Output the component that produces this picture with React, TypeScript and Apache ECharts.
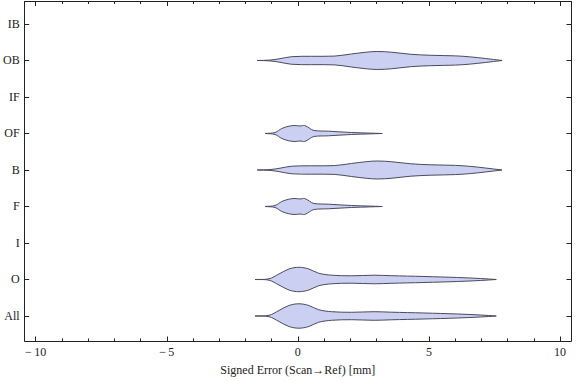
import React, { useEffect, useRef } from "react";
import * as echarts from "echarts";

// Categories from bottom to top
const categories = ["All", "O", "I", "F", "B", "OF", "IF", "OB", "IB"];

// Violin profiles: x positions (mm) and half-width densities
const allX = [-1.63, -1.1, -0.72, -0.34, 0.04, 0.42, 0.79, 1.29, 2.04, 2.91, 3.56, 4.81, 6.09, 6.96, 7.57];
const allD = [0, 0.7, 5.5, 10.5, 12.2, 10.5, 6.3, 4.3, 3.7, 4.3, 3.8, 3.0, 2.0, 1.0, 0];
const oX = [-1.63, -1.1, -0.72, -0.34, 0.04, 0.42, 0.79, 1.29, 2.04, 2.91, 3.56, 4.81, 6.09, 6.96, 7.57];
const oD = [0, 0.7, 5.5, 10.5, 12.2, 10.5, 6.3, 4.3, 3.7, 4.3, 3.8, 3.0, 2.0, 1.0, 0];
const fX = [-1.25, -0.87, -0.61, -0.34, -0.11, 0.08, 0.26, 0.45, 0.61, 1.17, 2.04, 2.72, 3.22];
const fD = [0, 1, 5, 7.3, 8, 7.5, 8, 5.2, 3, 2.3, 1, 0.4, 0];
const ofX = [-1.25, -0.87, -0.61, -0.34, -0.11, 0.08, 0.26, 0.45, 0.61, 1.17, 2.04, 2.72, 3.22];
const ofD = [0, 1, 5, 7.3, 8, 7.5, 8, 5.2, 3, 2.3, 1, 0.4, 0];
const bX = [-1.55, -1.06, -0.68, -0.23, 0.53, 1.4, 2.04, 2.61, 3.03, 3.56, 4.31, 5.07, 6.02, 6.58, 7.15, 7.79];
const bD = [0, 0.4, 1.8, 3.8, 4.2, 4.4, 6.5, 8.3, 9, 8.3, 6.2, 5.2, 4.6, 3.6, 2, 0];
const obX = [-1.55, -1.06, -0.68, -0.23, 0.53, 1.4, 2.04, 2.61, 3.03, 3.56, 4.31, 5.07, 6.02, 6.58, 7.15, 7.79];
const obD = [0, 0.4, 1.8, 3.8, 4.2, 4.4, 6.5, 8.3, 9, 8.3, 6.2, 5.2, 4.6, 3.6, 2, 0];

const violins = [
  { cat: "All", xs: allX, ds: allD },
  { cat: "O", xs: oX, ds: oD },
  { cat: "F", xs: fX, ds: fD },
  { cat: "B", xs: bX, ds: bD },
  { cat: "OF", xs: ofX, ds: ofD },
  { cat: "OB", xs: obX, ds: obD },
];

const majorTicks = [-10, -5, 0, 5, 10];
const minorTicks = [-10, -9, -8, -7, -6, -5, -4, -3, -2, -1, 0, 1, 2, 3, 4, 5, 6, 7, 8, 9, 10];
const catTicks = [1, 2, 3, 4, 5, 6, 7, 8, 9];

const FONT = "'Liberation Serif', 'DejaVu Serif', serif";
const DENSITY_SCALE = 1 / 36.5;
const X_MIN = -10.42;
const X_MAX = 10.42;
const Y_MIN = 0.315;
const Y_MAX = 9.616;

export default function App() {
  const ref = useRef<HTMLDivElement>(null);
  useEffect(() => {
    if (!ref.current) return;
    const chart = echarts.init(ref.current, undefined, { renderer: "svg" });
    const axisLine = { show: true, onZero: false, lineStyle: { color: "#222", width: 1 } };
    const noLine = { show: false, onZero: false };
    const fmtX = (v: number) => (v < 0 ? "\u2212\u2009" + Math.abs(v) : String(v));
    const xBase = { type: "value", min: X_MIN, max: X_MAX, splitLine: { show: false } };
    const yBase = { type: "value", min: Y_MIN, max: Y_MAX, splitLine: { show: false } };
    const tick = (vals: number[], len: number) => ({
      show: true,
      inside: true,
      length: len,
      customValues: vals,
      lineStyle: { color: "#222" },
    });
    chart.setOption({
      animation: false,
      grid: { left: 20.5, right: 5, top: 1.5, bottom: 40, containLabel: false },
      xAxis: [
        {
          ...xBase,
          position: "bottom",
          axisLine,
          axisTick: tick(majorTicks, 4.5),
          axisLabel: {
            show: true,
            customValues: majorTicks,
            formatter: fmtX,
            fontFamily: FONT,
            fontSize: 12,
            color: "#222",
            margin: 5,
          },
          name: "Signed Error (Scan\u2192Ref) [mm]",
          nameLocation: "middle",
          nameGap: 23,
          nameTextStyle: { fontFamily: FONT, fontSize: 12, color: "#222" },
        },
        { ...xBase, position: "bottom", axisLine: noLine, axisTick: tick(minorTicks, 2.5), axisLabel: { show: false } },
        { ...xBase, position: "top", axisLine, axisTick: tick(majorTicks, 4.5), axisLabel: { show: false } },
        { ...xBase, position: "top", axisLine: noLine, axisTick: tick(minorTicks, 2.5), axisLabel: { show: false } },
      ],
      yAxis: [
        {
          ...yBase,
          position: "left",
          axisLine,
          axisTick: tick(catTicks, 4.5),
          axisLabel: {
            show: true,
            customValues: catTicks,
            formatter: (v: number) => categories[Math.round(v) - 1] ?? "",
            fontFamily: FONT,
            fontSize: 12,
            color: "#222",
            margin: 5,
          },
        },
        { ...yBase, position: "right", axisLine, axisTick: tick(catTicks, 4.5), axisLabel: { show: false } },
      ],
      series: [
        {
          type: "custom",
          xAxisIndex: 0,
          yAxisIndex: 0,
          clip: false,
          data: violins.map((v) => [categories.indexOf(v.cat) + 1]),
          encode: { y: 0 },
          renderItem: (params: any, api: any) => {
            const v = violins[params.dataIndex];
            const cy = api.value(0);
            const unit = api.size([0, 1])[1];
            const top: number[][] = [];
            const bot: number[][] = [];
            v.xs.forEach((x, k) => {
              const p = api.coord([x, cy]);
              const h = v.ds[k] * DENSITY_SCALE * unit;
              top.push([p[0], p[1] - h]);
              bot.push([p[0], p[1] + h]);
            });
            return {
              type: "polygon",
              shape: { points: top.concat(bot.reverse()), smooth: 0.35 },
              style: { fill: "#cbcff2", stroke: "#4b4b5c", lineWidth: 1 },
            };
          },
        },
      ],
    });
    return () => chart.dispose();
  }, []);
  return <div ref={ref} style={{ position: "absolute", left: 0, top: 0, width: 576, height: 381 }} />;
}
